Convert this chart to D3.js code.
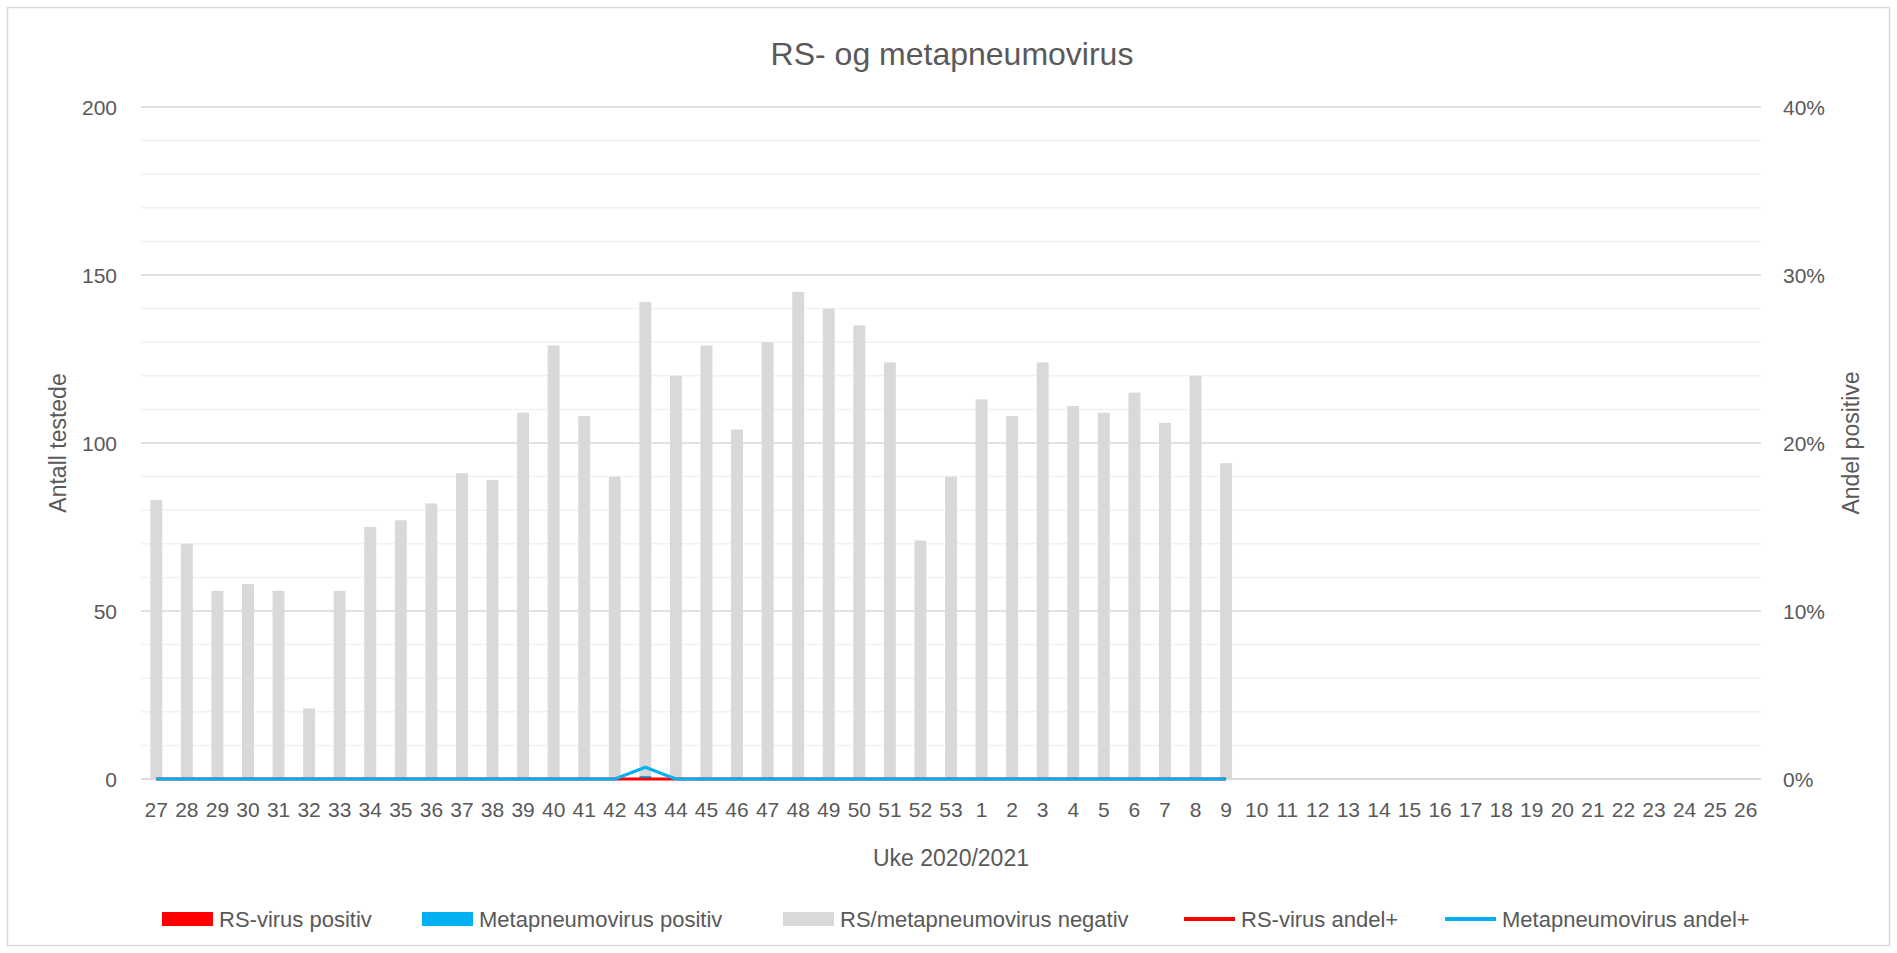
<!DOCTYPE html>
<html>
<head>
<meta charset="utf-8">
<title>RS- og metapneumovirus</title>
<script src="https://cdn.jsdelivr.net/npm/d3@7"></script>
<style>
    html, body { margin: 0; padding: 0; background: #fff; }
    svg text { font-family: "Liberation Sans", Arial, sans-serif; fill: #595959; }
</style>
</head>
<body>
<div id="chart"></div>
<script>
// Uker 27-53 (2020) og 1-26 (2021)
const weeks = [27, 28, 29, 30, 31, 32, 33, 34, 35, 36, 37, 38, 39, 40, 41, 42, 43, 44, 45, 46, 47, 48, 49, 50, 51, 52, 53,
    1, 2, 3, 4, 5, 6, 7, 8, 9, 10, 11, 12, 13, 14, 15, 16, 17, 18, 19, 20, 21, 22, 23, 24, 25, 26];

// Antall testede (data frem til uke 9)
const rsPositive = [0, 0, 0, 0, 0, 0, 0, 0, 0, 0, 0, 0, 0, 0, 0, 0, 0, 0, 0, 0, 0, 0, 0, 0, 0, 0, 0,
    0, 0, 0, 0, 0, 0, 0, 0, 0];
const metaPositive = [0, 0, 0, 0, 0, 0, 0, 0, 0, 0, 0, 0, 0, 0, 0, 0, 1, 0, 0, 0, 0, 0, 0, 0, 0, 0, 0,
    0, 0, 0, 0, 0, 0, 0, 0, 0];
const negative = [83, 70, 56, 58, 56, 21, 56, 75, 77, 82, 91, 89, 109, 129, 108, 90, 141, 120, 129, 104, 130, 145, 140, 135, 124, 71, 90,
    113, 108, 124, 111, 109, 115, 106, 120, 94];

// Andel positive (%)
const rsShare = [0, 0, 0, 0, 0, 0, 0, 0, 0, 0, 0, 0, 0, 0, 0, 0, 0, 0, 0, 0, 0, 0, 0, 0, 0, 0, 0,
    0, 0, 0, 0, 0, 0, 0, 0, 0];
const metaShare = [0, 0, 0, 0, 0, 0, 0, 0, 0, 0, 0, 0, 0, 0, 0, 0, 0.7, 0, 0, 0, 0, 0, 0, 0, 0, 0, 0,
    0, 0, 0, 0, 0, 0, 0, 0, 0];

const leftTicks = [0, 50, 100, 150, 200];
const rightTicks = [0, 10, 20, 30, 40];

const series = [
    { key: 'rs', name: 'RS-virus positiv', values: rsPositive, color: '#ff0000' },
    { key: 'meta', name: 'Metapneumovirus positiv', values: metaPositive, color: '#00b0f0' },
    { key: 'neg', name: 'RS/metapneumovirus negativ', values: negative, color: '#d9d9d9' }
];
const lines = [
    { name: 'RS-virus andel+', values: rsShare, color: '#ff0000' },
    { name: 'Metapneumovirus andel+', values: metaShare, color: '#00b0f0' }
];

// 配置
const config = {
    width: 1897,
    height: 953,
    plot: { left: 141, right: 1761, top: 107, bottom: 779 },
    barRatio: 0.39
};

const svg = d3.select('#chart').append('svg')
    .attr('width', config.width)
    .attr('height', config.height);

// ramme
svg.append('rect')
    .attr('x', 7.5).attr('y', 7.5)
    .attr('width', 1882).attr('height', 938)
    .attr('fill', '#fff')
    .attr('stroke', '#d9d9d9')
    .attr('stroke-width', 1.5);

const p = config.plot;

const x = d3.scaleBand()
    .domain(weeks.map(String))
    .range([p.left, p.right])
    .padding(0);

const y = d3.scaleLinear().domain([0, 200]).range([p.bottom, p.top]);
const y2 = d3.scaleLinear().domain([0, 40]).range([p.bottom, p.top]);

// rutenett
const minor = d3.range(10, 200, 10).filter(v => v % 50 !== 0);
svg.append('g').selectAll('line.minor')
    .data(minor)
    .join('line')
    .attr('x1', p.left).attr('x2', p.right)
    .attr('y1', d => y(d)).attr('y2', d => y(d))
    .attr('stroke', '#f2f2f2')
    .attr('stroke-width', 1.5);

svg.append('g').selectAll('line.major')
    .data(leftTicks)
    .join('line')
    .attr('x1', p.left).attr('x2', p.right)
    .attr('y1', d => y(d)).attr('y2', d => y(d))
    .attr('stroke', '#d9d9d9')
    .attr('stroke-width', 1.5);

// akser
const leftAxis = svg.append('g')
    .attr('transform', `translate(${p.left - 24},0)`)
    .call(d3.axisLeft(y).tickValues(leftTicks).tickSize(0).tickPadding(0));
leftAxis.select('.domain').remove();
leftAxis.selectAll('text')
    .attr('font-size', 21)
    .attr('dy', '0.35em');

const rightAxis = svg.append('g')
    .attr('transform', `translate(${p.right + 22},0)`)
    .call(d3.axisRight(y2).tickValues(rightTicks).tickSize(0).tickPadding(0)
        .tickFormat(d => d + '%'));
rightAxis.select('.domain').remove();
rightAxis.selectAll('text')
    .attr('font-size', 21)
    .attr('dy', '0.35em');

const bottomAxis = svg.append('g')
    .attr('transform', `translate(0,${p.bottom + 31})`)
    .call(d3.axisBottom(x).tickSize(0).tickPadding(0));
bottomAxis.select('.domain').remove();
bottomAxis.selectAll('text')
    .attr('font-size', 21)
    .attr('dy', '0.35em');

// stablede søyler
const rows = negative.map((_, i) => {
    const row = { week: String(weeks[i]) };
    series.forEach(s => { row[s.key] = s.values[i]; });
    return row;
});
const stacked = d3.stack().keys(series.map(s => s.key))(rows);
const barW = x.bandwidth() * config.barRatio;

svg.append('g').selectAll('g')
    .data(stacked)
    .join('g')
    .attr('fill', (d, i) => series[i].color)
    .selectAll('rect')
    .data(d => d)
    .join('rect')
    .attr('x', d => x(d.data.week) + (x.bandwidth() - barW) / 2)
    .attr('width', barW)
    .attr('y', d => y(d[1]))
    .attr('height', d => y(d[0]) - y(d[1]));

// nullinje
svg.append('line')
    .attr('x1', p.left).attr('x2', p.right)
    .attr('y1', y(0)).attr('y2', y(0))
    .attr('stroke', '#d9d9d9')
    .attr('stroke-width', 1.5);

// linjer for andel positive
const lineGen = d3.line()
    .x((d, i) => x(String(weeks[i])) + x.bandwidth() / 2)
    .y(d => y2(d));

lines.forEach(l => {
    svg.append('path')
        .datum(l.values)
        .attr('d', lineGen)
        .attr('fill', 'none')
        .attr('stroke', l.color)
        .attr('stroke-width', 3)
        .attr('stroke-linejoin', 'round');
});

// tittel
svg.append('text')
    .attr('x', 952).attr('y', 54)
    .attr('text-anchor', 'middle')
    .attr('dy', '0.35em')
    .attr('font-size', 32)
    .text('RS- og metapneumovirus');

svg.append('text')
    .attr('x', (p.left + p.right) / 2).attr('y', 858)
    .attr('text-anchor', 'middle')
    .attr('dy', '0.35em')
    .attr('font-size', 23)
    .text('Uke 2020/2021');

svg.append('text')
    .attr('transform', `translate(58,${(p.top + p.bottom) / 2}) rotate(-90)`)
    .attr('text-anchor', 'middle')
    .attr('dy', '0.35em')
    .attr('font-size', 23)
    .text('Antall testede');

svg.append('text')
    .attr('transform', `translate(1851,${(p.top + p.bottom) / 2}) rotate(-90)`)
    .attr('text-anchor', 'middle')
    .attr('dy', '0.35em')
    .attr('font-size', 23)
    .text('Andel positive');

// forklaring
const legendY = 919;
const legendItems = [
    { name: series[0].name, color: series[0].color, type: 'rect', x: 162 },
    { name: series[1].name, color: series[1].color, type: 'rect', x: 422 },
    { name: series[2].name, color: series[2].color, type: 'rect', x: 783 },
    { name: lines[0].name, color: lines[0].color, type: 'line', x: 1184 },
    { name: lines[1].name, color: lines[1].color, type: 'line', x: 1445 }
];

const legend = svg.append('g').selectAll('g')
    .data(legendItems)
    .join('g')
    .attr('transform', d => `translate(${d.x},${legendY})`);

legend.filter(d => d.type === 'rect').append('rect')
    .attr('x', 0).attr('y', -7)
    .attr('width', 51).attr('height', 14)
    .attr('fill', d => d.color);

legend.filter(d => d.type === 'line').append('line')
    .attr('x1', 0).attr('x2', 51)
    .attr('y1', 0).attr('y2', 0)
    .attr('stroke', d => d.color)
    .attr('stroke-width', 4);

legend.append('text')
    .attr('x', 57)
    .attr('dy', '0.35em')
    .attr('font-size', 22)
    .text(d => d.name);
</script>
</body>
</html>
